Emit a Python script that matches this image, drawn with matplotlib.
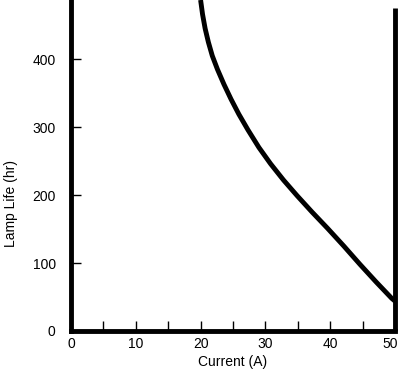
import matplotlib
matplotlib.use("Agg")
import matplotlib.pyplot as plt
import matplotlib.transforms as mtransforms

current = [20.0, 20.3, 20.7, 21.2, 21.8, 22.6, 23.6, 24.7, 25.9, 27.3, 29.0,
           30.8, 32.8, 34.9, 37.2, 39.6, 42.1, 44.6, 47.1, 49.5, 50.0]
life = [487, 466, 445, 425, 405, 385, 363, 341, 319, 296, 270,
        246, 222, 199, 175, 151, 125, 98, 72, 48, 44]
limit_x = [50, 50]
limit_y = [0, 475]
x_ticks = [0, 10, 20, 30, 40, 50]
x_minor = [5, 15, 25, 35, 45]
y_ticks = [0, 100, 200, 300, 400]

plt.rcParams['font.family'] = ['Liberation Sans Narrow', 'Liberation Sans', 'DejaVu Sans']

fig = plt.figure(figsize=(4.0, 3.73), dpi=100)
ax = fig.add_axes([71/400, 42/373, (395-71)/400, 331/373])

ax.plot(current, life, color='black', lw=3.5, solid_capstyle='butt',
        solid_joinstyle='round', clip_on=True)
ax.plot(limit_x, limit_y, color='black', lw=3.5, solid_capstyle='butt', clip_on=False)

ax.set_xlim(0, 50)
ax.set_ylim(0, 487)
for s in ['top', 'right']:
    ax.spines[s].set_visible(False)
for s in ['left', 'bottom']:
    ax.spines[s].set_linewidth(3.5)

ax.set_xticks(x_ticks)
ax.set_xticks(x_minor, minor=True)
ax.set_yticks(y_ticks)
ax.tick_params(axis='both', which='both', direction='in', width=1, color='black', labelsize=10)
ax.tick_params(axis='x', which='major', length=7, pad=4)
ax.tick_params(axis='x', which='minor', length=7)
ax.tick_params(axis='y', which='major', length=7, pad=11)

ax.set_xlabel('Current (A)', fontsize=10, labelpad=3)
ax.set_ylabel('Lamp Life (hr)', fontsize=10)
ax.yaxis.set_label_coords(-0.165, 0.384)

last = ax.xaxis.get_major_ticks()[len(x_ticks) - 1]
last.label1.set_horizontalalignment('right')
last.label1.set_transform(last.label1.get_transform() +
                          mtransforms.ScaledTranslation(3/100, 0, fig.dpi_scale_trans))

fig.savefig('out.png', dpi=100)
